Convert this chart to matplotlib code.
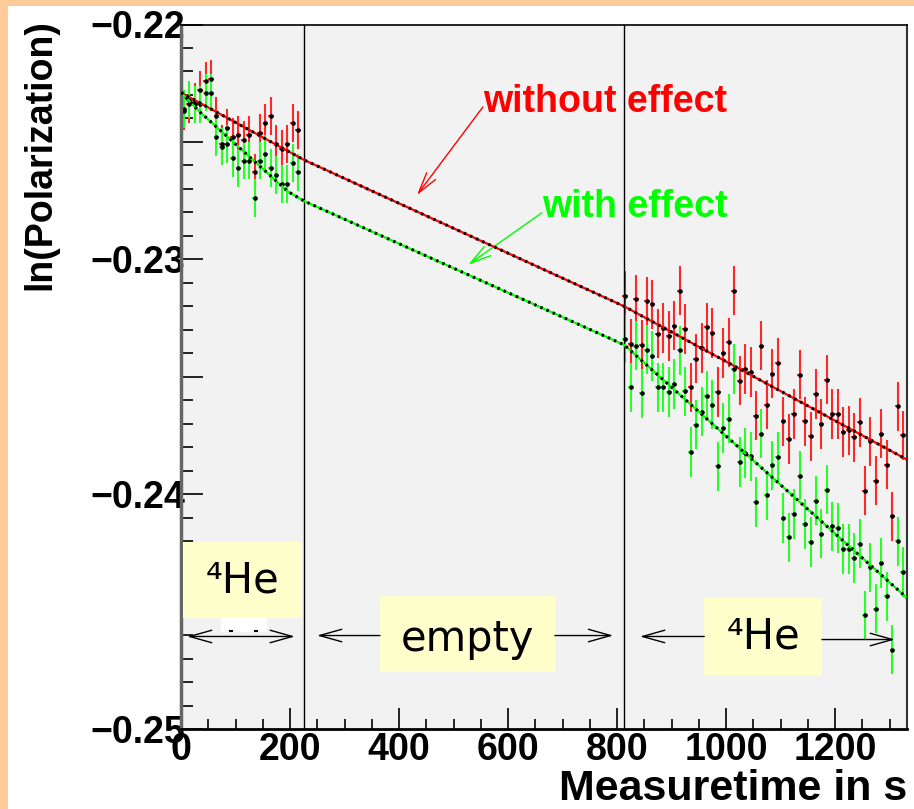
import matplotlib
matplotlib.use("Agg")
import matplotlib.pyplot as plt
from matplotlib.patches import Rectangle
from matplotlib.ticker import MultipleLocator, FuncFormatter

W, H = 914, 809
ORANGE = '#FFCC99'
BOX = '#FFFFCC'

# first 4He period (s) and ln(P)
t_he1 = [5, 15, 25, 35, 45, 55, 65, 75, 85, 95, 105,
         115, 125, 135, 145, 155, 165, 175, 185, 195, 205, 215]
red_he1 = [-0.2237, -0.2234, -0.2233, -0.2228, -0.2224, -0.2223, -0.2239, -0.2251,
           -0.2244, -0.2248, -0.2247, -0.2249, -0.2247, -0.2263, -0.2246, -0.2242,
           -0.2239, -0.2251, -0.2253, -0.2251, -0.2242, -0.2245]
green_he1 = [-0.2236, -0.2232, -0.2234, -0.2234, -0.2229, -0.2229, -0.2248, -0.2252,
             -0.2251, -0.2257, -0.2261, -0.2258, -0.2258, -0.2274, -0.2258, -0.2255,
             -0.2261, -0.2264, -0.2268, -0.2268, -0.2259, -0.2263]
err_he1 = 0.0008

# second 4He period
t_he2 = [815, 825, 835, 845, 855, 865, 875, 885, 895, 905, 915, 925, 935,
         945, 955, 965, 975, 985, 995, 1005, 1015, 1025, 1035, 1045, 1055, 1065,
         1075, 1085, 1095, 1105, 1115, 1125, 1135, 1145, 1155, 1165, 1175, 1185,
         1195, 1205, 1215, 1225, 1235, 1245, 1255, 1265, 1275, 1285, 1295, 1305,
         1315, 1325]
red_he2 = [-0.23155, -0.23361, -0.23170, -0.23364, -0.23179, -0.23191, -0.23317,
           -0.23293, -0.23326, -0.23283, -0.23134, -0.23297, -0.23545, -0.23423,
           -0.23378, -0.23290, -0.23314, -0.23565, -0.23399, -0.23354, -0.23133,
           -0.23517, -0.23467, -0.23480, -0.23666, -0.23367, -0.23619, -0.23487,
           -0.23442, -0.23690, -0.23765, -0.23659, -0.23491, -0.23690, -0.23754,
           -0.23574, -0.23701, -0.23513, -0.23659, -0.23659, -0.23735, -0.23728,
           -0.23758, -0.23694, -0.23985, -0.23775, -0.23943, -0.23743, -0.23874,
           -0.24094, -0.23626, -0.23750]
green_he2 = [-0.23338, -0.23545, -0.23367, -0.23570, -0.23385, -0.23411, -0.23545,
             -0.23545, -0.23565, -0.23531, -0.23388, -0.23562, -0.23821, -0.23704,
             -0.23648, -0.23581, -0.23619, -0.23882, -0.23718, -0.23679, -0.23467,
             -0.23863, -0.23825, -0.23839, -0.24033, -0.23743, -0.24005, -0.23877,
             -0.23842, -0.24101, -0.24184, -0.24084, -0.23921, -0.24127, -0.24204,
             -0.24028, -0.24168, -0.23981, -0.24137, -0.24144, -0.24233, -0.24233,
             -0.24272, -0.24211, -0.24516, -0.24311, -0.24487, -0.24293, -0.24435,
             -0.24662, -0.24201, -0.24331]
err_he2 = 0.00105

# fit curves (nodes)
fit_red_t = [0, 226, 813, 1332]
fit_red_v = [-0.22290, -0.22577, -0.23200, -0.23853]
fit_green_t = [0, 34, 196, 226, 813, 1332]
fit_green_v = [-0.22290, -0.22371, -0.22711, -0.22752, -0.23364, -0.24442]

boundaries = [226, 813]

plt.rcParams['font.family'] = ['Liberation Sans', 'DejaVu Sans']
plt.rcParams['font.weight'] = 'bold'

fig = plt.figure(figsize=(W / 100, H / 100), dpi=100)
fig.patch.set_facecolor('white')
fig.patches.append(Rectangle((0, 0), 8 / W, 1, transform=fig.transFigure,
                             facecolor=ORANGE, edgecolor='none', zorder=0))
fig.patches.append(Rectangle((0, 1 - 6 / H), 1, 6 / H, transform=fig.transFigure,
                             facecolor=ORANGE, edgecolor='none', zorder=0))

ax = fig.add_axes([181 / W, 1 - 729 / H, (907 - 181) / W, (729 - 24.5) / H])
ax.set_facecolor('#F2F2F2')
ax.set_xlim(0, 1332)
ax.set_ylim(-0.25, -0.22)

# data points
for t, vals, err, col in [(t_he1, red_he1, err_he1, '#FF2828'),
                          (t_he1, green_he1, err_he1, '#28FF28'),
                          (t_he2, red_he2, err_he2, '#FF2828'),
                          (t_he2, green_he2, err_he2, '#28FF28')]:
    ax.errorbar(t, vals, yerr=err, xerr=5, fmt='o', ms=2.3, mfc='black', mec='black',
                ecolor=col, elinewidth=1.5, capsize=0, zorder=2)

# fit lines with black dots on top
for ft, fv, col in [(fit_red_t, fit_red_v, 'red'), (fit_green_t, fit_green_v, '#00FF00')]:
    ax.plot(ft, fv, color=col, lw=1.6, zorder=5)
    ax.plot(ft, fv, color='black', lw=2.2, ls=(0, (0.8, 1.4)), zorder=6)

for b in boundaries:
    ax.axvline(b, color='black', lw=1, zorder=4)

# region boxes
ax.add_patch(Rectangle((3.7, -0.245255), 218.3, 0.003234, facecolor=BOX, edgecolor='none', zorder=3))
ax.add_patch(Rectangle((365, -0.247553), 321, 0.003234, facecolor=BOX, edgecolor='none', zorder=3))
ax.add_patch(Rectangle((960, -0.247681), 216, 0.003277, facecolor=BOX, edgecolor='none', zorder=3))
ax.add_patch(Rectangle((73.4, -0.245851), 84.4, 0.000596, facecolor='white', edgecolor='none', zorder=3))
ax.plot([90, 94], [-0.24583, -0.24583], color='black', lw=1.5, zorder=4)
ax.plot([136, 140], [-0.24583, -0.24583], color='black', lw=1.5, zorder=4)

box_font = dict(family='DejaVu Sans', fontweight='normal', fontsize=30, ha='center', va='center', zorder=4)
ax.text(113, -0.24368, '\u2074He', **box_font)
ax.text(525, -0.24615, 'empty', **box_font)
ax.text(1068, -0.24605, '\u2074He', **box_font)

head = '->,head_length=1.6,head_width=0.45'
arr = dict(color='black', lw=1, shrinkA=0, shrinkB=0)
ax.annotate('', xy=(209, -0.24606), xytext=(11, -0.24606),
            arrowprops=dict(arrowstyle='<->,head_length=1.6,head_width=0.45', **arr), zorder=4)
ax.annotate('', xy=(249.5, -0.24602), xytext=(365, -0.24602), arrowprops=dict(arrowstyle=head, **arr))
ax.annotate('', xy=(793, -0.24602), xytext=(686, -0.24602), arrowprops=dict(arrowstyle=head, **arr))
ax.annotate('', xy=(842, -0.24606), xytext=(960, -0.24606), arrowprops=dict(arrowstyle=head, **arr))
ax.annotate('', xy=(1310, -0.24619), xytext=(1176, -0.24619), arrowprops=dict(arrowstyle=head, **arr))

# labels of the two curves
ax.text(554, -0.223723, 'without effect', color='red', fontsize=27, va='baseline', zorder=3)
ax.text(662, -0.22819, 'with effect', color='#00FF00', fontsize=27, va='baseline', zorder=3)
ax.annotate('', xy=(433, -0.22726), xytext=(554, -0.22351),
            arrowprops=dict(arrowstyle='->,head_length=1.5,head_width=0.4', color='red', lw=1,
                            shrinkA=0, shrinkB=0))
ax.annotate('', xy=(527, -0.23023), xytext=(662, -0.22802),
            arrowprops=dict(arrowstyle='->,head_length=1.5,head_width=0.4', color='#00FF00', lw=1,
                            shrinkA=0, shrinkB=0))

# axes cosmetics
ax.xaxis.set_major_locator(MultipleLocator(200))
ax.xaxis.set_minor_locator(MultipleLocator(50))
ax.yaxis.set_major_locator(MultipleLocator(0.005))
ax.yaxis.set_minor_locator(MultipleLocator(0.001))


def ylab(v, pos):
    if abs(v * 100 - round(v * 100)) > 1e-6:
        return ''
    return '\u2212%.2f' % abs(v)


ax.yaxis.set_major_formatter(FuncFormatter(ylab))
ax.tick_params(axis='y', which='major', direction='in', length=15.5, width=1.2, pad=-3, labelsize=27)
ax.tick_params(axis='y', which='minor', direction='in', length=8.4, width=1.2)
ax.tick_params(axis='x', which='major', direction='in', length=15, width=1.2, pad=2, labelsize=27)
ax.tick_params(axis='x', which='minor', direction='in', length=7, width=1.2)

ax.spines['left'].set_color('#666666')
ax.spines['left'].set_linewidth(2.5)
ax.spines['bottom'].set_linewidth(2)
ax.spines['top'].set_linewidth(1.2)
ax.spines['right'].set_color('#333333')
ax.spines['right'].set_linewidth(1.5)

fig.text(40 / W, 1 - 155 / H, 'ln(Polarization)', rotation=90, ha='center', va='center', fontsize=27)
fig.text(907 / W, 1 - 789 / H, 'Measuretime in s', ha='right', va='center', fontsize=31)

fig.savefig('out.png', dpi=100)
